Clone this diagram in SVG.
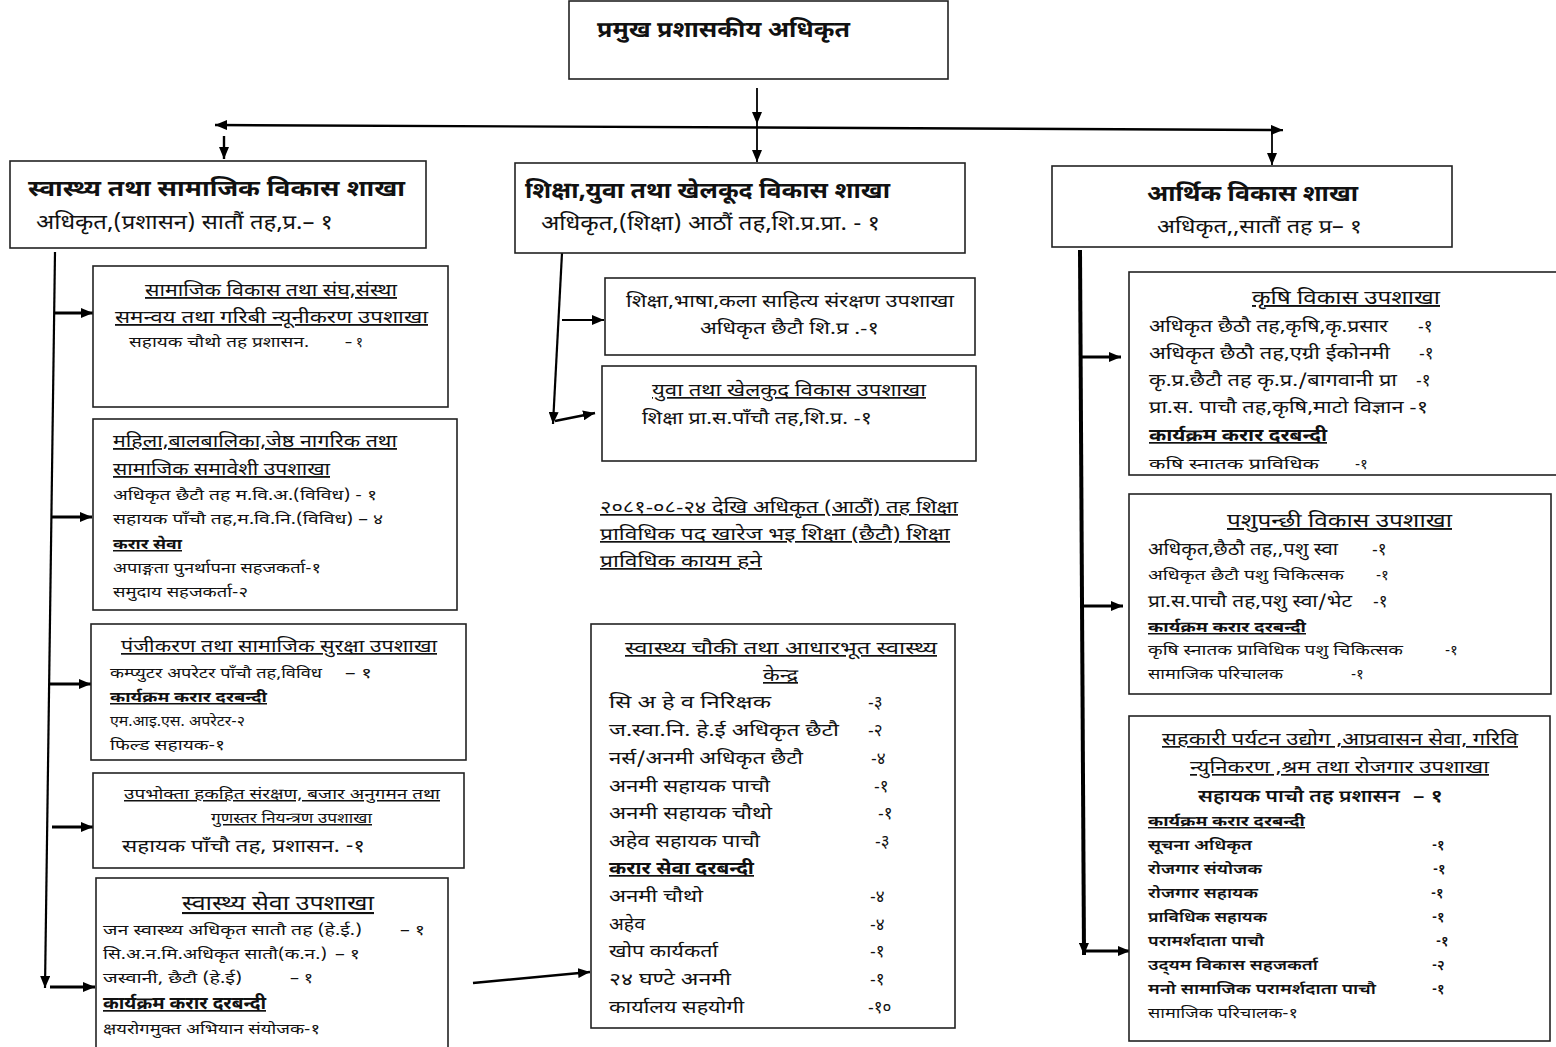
<svg xmlns="http://www.w3.org/2000/svg" width="1556" height="1047" viewBox="0 0 1556 1047">
<style>
.bx{fill:#fff;stroke:#222;stroke-width:1.6}
text{font-family:"Noto Sans Devanagari","Noto Sans","Lohit Devanagari",sans-serif;fill:#111}
.b{font-weight:bold}
.u{text-decoration:underline}
.m{text-anchor:middle}
.c{fill:none;stroke:#000;stroke-width:1.8}
.k{fill:none;stroke:#000;stroke-width:3.2}
</style>
<defs>
<marker id="ar" markerUnits="userSpaceOnUse" markerWidth="12" markerHeight="10" refX="12" refY="5" orient="auto"><path d="M0,0 L12,5 L0,10 z" fill="#000"/></marker>
<marker id="al" markerUnits="userSpaceOnUse" markerWidth="12" markerHeight="10" refX="0" refY="5" orient="auto"><path d="M12,0 L0,5 L12,10 z" fill="#000"/></marker>
</defs>
<rect width="1556" height="1047" fill="#fff"/>

<g id="connectors">
<line class="c" x1="757" y1="88" x2="757" y2="124" marker-end="url(#ar)"/>
<line class="c" x1="215" y1="125" x2="1283" y2="130" marker-start="url(#al)" marker-end="url(#ar)" style="stroke-width:2.4"/>
<line class="c" x1="224" y1="136" x2="224" y2="159" marker-end="url(#ar)" style="stroke-width:2.4"/>
<line class="c" x1="757" y1="124" x2="757" y2="162" marker-end="url(#ar)"/>
<line class="c" x1="1272" y1="130" x2="1272" y2="165" marker-end="url(#ar)"/>
<line class="c" x1="55" y1="252" x2="45" y2="988" marker-end="url(#ar)" style="stroke-width:2.2"/>
<line class="k" x1="54" y1="313" x2="93" y2="313" marker-end="url(#ar)"/>
<line class="k" x1="51" y1="517" x2="92" y2="517" marker-end="url(#ar)"/>
<line class="k" x1="49" y1="684" x2="91" y2="684" marker-end="url(#ar)"/>
<line class="k" x1="52" y1="827" x2="93" y2="827" marker-end="url(#ar)"/>
<line class="k" x1="50" y1="987" x2="95" y2="987" marker-end="url(#ar)"/>
<line class="c" x1="562" y1="253" x2="553" y2="424" marker-end="url(#ar)" style="stroke-width:2.2"/>
<line class="c" x1="562" y1="320" x2="604" y2="320" marker-end="url(#ar)"/>
<line class="k" x1="555" y1="421" x2="595" y2="413" marker-end="url(#ar)" style="stroke-width:2.6"/>
<line class="c" x1="473" y1="983" x2="590" y2="972" marker-end="url(#ar)" style="stroke-width:2.6"/>
<line class="k" x1="1080" y1="250" x2="1084" y2="955" marker-end="url(#ar)" style="stroke-width:4"/>
<line class="k" x1="1082" y1="357" x2="1121" y2="357" marker-end="url(#ar)"/>
<line class="k" x1="1083" y1="606" x2="1123" y2="606" marker-end="url(#ar)"/>
<line class="k" x1="1085" y1="951" x2="1130" y2="951" marker-end="url(#ar)"/>
</g>

<g id="top">
<rect class="bx" x="569" y="1" width="379" height="78"/>
<text class="b" x="597" y="37" font-size="22" textLength="253" lengthAdjust="spacingAndGlyphs">प्रमुख प्रशासकीय अधिकृत</text>
</g>

<g id="branch-left">
<rect class="bx" x="10" y="161" width="416" height="87"/>
<text class="b" x="28" y="196" font-size="23" textLength="377" lengthAdjust="spacingAndGlyphs">स्वास्थ्य तथा सामाजिक विकास शाखा</text>
<text x="36" y="229" font-size="20" textLength="297" lengthAdjust="spacingAndGlyphs">अधिकृत,(प्रशासन) सातौं तह,प्र.– १</text>
</g>

<g id="branch-mid">
<rect class="bx" x="515" y="163" width="450" height="90"/>
<text class="b" x="525" y="198" font-size="23" textLength="365" lengthAdjust="spacingAndGlyphs">शिक्षा,युवा तथा खेलकूद विकास शाखा</text>
<text x="541" y="230" font-size="20" textLength="339" lengthAdjust="spacingAndGlyphs">अधिकृत,(शिक्षा) आठौं तह,शि.प्र.प्रा. - १</text>
</g>

<g id="branch-right">
<rect class="bx" x="1052" y="166" width="400" height="81"/>
<text class="b" x="1147" y="201" font-size="22" textLength="211" lengthAdjust="spacingAndGlyphs">आर्थिक विकास शाखा</text>
<text x="1157" y="233" font-size="19" textLength="205" lengthAdjust="spacingAndGlyphs">अधिकृत,,सातौं तह प्र– १</text>
</g>

<g id="l1">
<rect class="bx" x="93" y="266" width="355" height="141"/>
<text class="u" x="145" y="296" font-size="18" textLength="252" lengthAdjust="spacingAndGlyphs">सामाजिक विकास तथा संघ,संस्था</text>
<text class="u" x="115" y="323" font-size="18" textLength="313" lengthAdjust="spacingAndGlyphs">समन्वय तथा गरिबी न्यूनीकरण उपशाखा</text>
<text x="129" y="347" font-size="14" textLength="180" lengthAdjust="spacingAndGlyphs">सहायक चौथो तह प्रशासन.</text>
<text x="345" y="347" font-size="14" textLength="18" lengthAdjust="spacingAndGlyphs">– १</text>
</g>

<g id="l2">
<rect class="bx" x="93" y="419" width="364" height="191"/>
<text class="u" x="113" y="447" font-size="18" textLength="284" lengthAdjust="spacingAndGlyphs">महिला,बालबालिका,जेष्ठ नागरिक तथा</text>
<text class="u" x="113" y="475" font-size="18" textLength="217" lengthAdjust="spacingAndGlyphs">सामाजिक समावेशी उपशाखा</text>
<text x="113" y="500" font-size="15" textLength="264" lengthAdjust="spacingAndGlyphs">अधिकृत छैटौ तह म.वि.अ.(विविध) - १</text>
<text x="113" y="524" font-size="15" textLength="270" lengthAdjust="spacingAndGlyphs">सहायक पाँचौ तह,म.वि.नि.(विविध) – ४</text>
<text class="b u" x="113" y="549" font-size="15" textLength="69" lengthAdjust="spacingAndGlyphs">करार सेवा</text>
<text x="113" y="573" font-size="15" textLength="208" lengthAdjust="spacingAndGlyphs">अपाङ्गता पुनर्थापना सहजकर्ता-१</text>
<text x="113" y="597" font-size="15" textLength="135" lengthAdjust="spacingAndGlyphs">समुदाय सहजकर्ता-२</text>
</g>

<g id="l3">
<rect class="bx" x="91" y="624" width="375" height="136"/>
<text class="u" x="121" y="652" font-size="17" textLength="316" lengthAdjust="spacingAndGlyphs">पंजीकरण तथा सामाजिक सुरक्षा उपशाखा</text>
<text x="110" y="678" font-size="15" textLength="212" lengthAdjust="spacingAndGlyphs">कम्प्युटर अपरेटर पाँचौ तह,विविध</text>
<text x="345" y="678" font-size="15" textLength="27" lengthAdjust="spacingAndGlyphs">– १</text>
<text class="b u" x="110" y="702" font-size="15" textLength="157" lengthAdjust="spacingAndGlyphs">कार्यक्रम करार दरबन्दी</text>
<text x="110" y="726" font-size="15" textLength="135" lengthAdjust="spacingAndGlyphs">एम.आइ.एस. अपरेटर-२</text>
<text x="110" y="750" font-size="15" textLength="115" lengthAdjust="spacingAndGlyphs">फिल्ड सहायक-१</text>
</g>

<g id="l4">
<rect class="bx" x="93" y="773" width="371" height="95"/>
<text class="u" x="124" y="799" font-size="15" textLength="316" lengthAdjust="spacingAndGlyphs">उपभोक्ता हकहित संरक्षण, बजार अनुगमन तथा</text>
<text class="u" x="211" y="823" font-size="15" textLength="161" lengthAdjust="spacingAndGlyphs">गुणस्तर नियन्त्रण उपशाखा</text>
<text x="122" y="852" font-size="18" textLength="243" lengthAdjust="spacingAndGlyphs">सहायक पाँचौ तह, प्रशासन. -१</text>
</g>

<g id="l5">
<rect class="bx" x="96" y="878" width="352" height="175"/>
<text class="u" x="182" y="910" font-size="21" textLength="192" lengthAdjust="spacingAndGlyphs">स्वास्थ्य सेवा उपशाखा</text>
<text x="103" y="935" font-size="15" textLength="259" lengthAdjust="spacingAndGlyphs">जन स्वास्थ्य अधिकृत सातौ तह (हे.ई.)</text>
<text x="400" y="935" font-size="15" textLength="25" lengthAdjust="spacingAndGlyphs">– १</text>
<text x="103" y="959" font-size="15" textLength="224" lengthAdjust="spacingAndGlyphs">सि.अ.न.मि.अधिकृत सातौ(क.न.)</text>
<text x="335" y="959" font-size="15" textLength="25" lengthAdjust="spacingAndGlyphs">– १</text>
<text x="103" y="983" font-size="15" textLength="139" lengthAdjust="spacingAndGlyphs">जस्वानी, छैटौ (हे.ई)</text>
<text x="290" y="983" font-size="15" textLength="23" lengthAdjust="spacingAndGlyphs">– १</text>
<text class="b u" x="103" y="1009" font-size="17" textLength="163" lengthAdjust="spacingAndGlyphs">कार्यक्रम करार दरबन्दी</text>
<text x="103" y="1034" font-size="15" textLength="217" lengthAdjust="spacingAndGlyphs">क्षयरोगमुक्त अभियान संयोजक-१</text>
</g>

<g id="m1">
<rect class="bx" x="605" y="278" width="370" height="77"/>
<text x="626" y="307" font-size="17" textLength="328" lengthAdjust="spacingAndGlyphs">शिक्षा,भाषा,कला साहित्य संरक्षण उपशाखा</text>
<text x="700" y="334" font-size="17" textLength="179" lengthAdjust="spacingAndGlyphs">अधिकृत छैटौ शि.प्र .-१</text>
</g>

<g id="m2">
<rect class="bx" x="602" y="366" width="374" height="95"/>
<text class="u" x="652" y="396" font-size="17" textLength="274" lengthAdjust="spacingAndGlyphs">युवा तथा खेलकुद विकास उपशाखा</text>
<text x="642" y="424" font-size="17" textLength="230" lengthAdjust="spacingAndGlyphs">शिक्षा प्रा.स.पाँचौ तह,शि.प्र. -१</text>
</g>

<g id="note">
<text class="u" x="600" y="513" font-size="17" textLength="358" lengthAdjust="spacingAndGlyphs">२०८१-०८-२४ देखि अधिकृत (आठौं) तह शिक्षा</text>
<text class="u" x="600" y="540" font-size="17" textLength="350" lengthAdjust="spacingAndGlyphs">प्राविधिक पद खारेज भइ शिक्षा (छैटौ) शिक्षा</text>
<text class="u" x="600" y="567" font-size="17" textLength="162" lengthAdjust="spacingAndGlyphs">प्राविधिक कायम हने</text>
</g>

<g id="m3">
<rect class="bx" x="591" y="624" width="364" height="404"/>
<text class="u" x="625" y="654" font-size="17" textLength="312" lengthAdjust="spacingAndGlyphs">स्वास्थ्य चौकी तथा आधारभूत स्वास्थ्य</text>
<text class="u" x="763" y="681" font-size="17" textLength="35" lengthAdjust="spacingAndGlyphs">केन्द्र</text>
<g font-size="17">
<text x="609" y="708" textLength="162" lengthAdjust="spacingAndGlyphs">सि अ हे व निरिक्षक</text><text x="868" y="708">-३</text>
<text x="609" y="736" textLength="230" lengthAdjust="spacingAndGlyphs">ज.स्वा.नि. हे.ई अधिकृत छैटौ</text><text x="868" y="736">-२</text>
<text x="609" y="764" textLength="194" lengthAdjust="spacingAndGlyphs">नर्स/अनमी अधिकृत छैटौ</text><text x="871" y="764">-४</text>
<text x="609" y="792" textLength="161" lengthAdjust="spacingAndGlyphs">अनमी सहायक पाचौ</text><text x="874" y="792">-१</text>
<text x="609" y="819" textLength="163" lengthAdjust="spacingAndGlyphs">अनमी सहायक चौथो</text><text x="878" y="819">-१</text>
<text x="609" y="847" textLength="151" lengthAdjust="spacingAndGlyphs">अहेव सहायक पाचौ</text><text x="875" y="847">-३</text>
<text class="b u" x="609" y="874" textLength="145" lengthAdjust="spacingAndGlyphs">करार सेवा दरबन्दी</text>
<text x="609" y="902" textLength="94" lengthAdjust="spacingAndGlyphs">अनमी चौथो</text><text x="870" y="902">-४</text>
<text x="609" y="930" textLength="36" lengthAdjust="spacingAndGlyphs">अहेव</text><text x="870" y="930">-४</text>
<text x="609" y="957" textLength="109" lengthAdjust="spacingAndGlyphs">खोप कार्यकर्ता</text><text x="870" y="957">-१</text>
<text x="609" y="985" textLength="122" lengthAdjust="spacingAndGlyphs">२४ घण्टे अनमी</text><text x="870" y="985">-१</text>
<text x="609" y="1013" textLength="135" lengthAdjust="spacingAndGlyphs">कार्यालय सहयोगी</text><text x="868" y="1013">-१०</text>
</g>
</g>

<g id="r1">
<rect class="bx" x="1129" y="272" width="440" height="203"/>
<text class="u" x="1252" y="304" font-size="19" textLength="188" lengthAdjust="spacingAndGlyphs">कृषि विकास उपशाखा</text>
<g font-size="17">
<text x="1149" y="332" textLength="239" lengthAdjust="spacingAndGlyphs">अधिकृत छैठौ तह,कृषि,कृ.प्रसार</text><text x="1418" y="332">-१</text>
<text x="1149" y="359" textLength="241" lengthAdjust="spacingAndGlyphs">अधिकृत छैठौ तह,एग्री ईकोनमी</text><text x="1419" y="359">-१</text>
<text x="1149" y="386" textLength="248" lengthAdjust="spacingAndGlyphs">कृ.प्र.छैटौ तह कृ.प्र./बागवानी प्रा</text><text x="1416" y="386">-१</text>
<text x="1149" y="413" textLength="279" lengthAdjust="spacingAndGlyphs">प्रा.स. पाचौ तह,कृषि,माटो विज्ञान -१</text>
<text class="b u" x="1149" y="441" textLength="178" lengthAdjust="spacingAndGlyphs">कार्यक्रम करार दरबन्दी</text>
<text x="1149" y="469" font-size="15" textLength="170" lengthAdjust="spacingAndGlyphs">कषि स्नातक प्राविधिक</text><text x="1355" y="469" font-size="15">-१</text>
</g>
</g>

<g id="r2">
<rect class="bx" x="1129" y="494" width="422" height="200"/>
<text class="u" x="1227" y="527" font-size="19" textLength="225" lengthAdjust="spacingAndGlyphs">पशुपन्छी विकास उपशाखा</text>
<text x="1148" y="555" font-size="17" textLength="190" lengthAdjust="spacingAndGlyphs">अधिकृत,छैठौ तह,,पशु स्वा</text><text x="1372" y="555" font-size="17">-१</text>
<text x="1148" y="580" font-size="15" textLength="196" lengthAdjust="spacingAndGlyphs">अधिकृत छैटौ पशु चिकित्सक</text><text x="1376" y="580" font-size="15">-१</text>
<text x="1148" y="607" font-size="17" textLength="204" lengthAdjust="spacingAndGlyphs">प्रा.स.पाचौ तह,पशु स्वा/भेट</text><text x="1373" y="607" font-size="17">-१</text>
<text class="b u" x="1148" y="632" font-size="15" textLength="158" lengthAdjust="spacingAndGlyphs">कार्यक्रम करार दरबन्दी</text>
<text x="1148" y="655" font-size="15" textLength="255" lengthAdjust="spacingAndGlyphs">कृषि स्नातक प्राविधिक पशु चिकित्सक</text><text x="1445" y="655" font-size="15">-१</text>
<text x="1148" y="679" font-size="15" textLength="135" lengthAdjust="spacingAndGlyphs">सामाजिक परिचालक</text><text x="1351" y="679" font-size="15">-१</text>
</g>

<g id="r3">
<rect class="bx" x="1129" y="716" width="421" height="325"/>
<text class="u" x="1162" y="745" font-size="17" textLength="356" lengthAdjust="spacingAndGlyphs">सहकारी पर्यटन उद्योग ,आप्रवासन सेवा, गरिवि</text>
<text class="u" x="1190" y="773" font-size="17" textLength="299" lengthAdjust="spacingAndGlyphs">न्युनिकरण ,श्रम तथा रोजगार उपशाखा</text>
<text x="1198" y="802" font-size="17" font-weight="600" textLength="202" lengthAdjust="spacingAndGlyphs">सहायक पाचौ तह प्रशासन</text>
<text x="1413" y="802" font-size="17" font-weight="600" textLength="30" lengthAdjust="spacingAndGlyphs">– १</text>
<g font-size="14" font-weight="600">
<text class="b u" x="1148" y="826" textLength="157" lengthAdjust="spacingAndGlyphs">कार्यक्रम करार दरबन्दी</text>
<text x="1148" y="850" textLength="104" lengthAdjust="spacingAndGlyphs">सूचना अधिकृत</text><text x="1432" y="850">-१</text>
<text x="1148" y="874" textLength="114" lengthAdjust="spacingAndGlyphs">रोजगार संयोजक</text><text x="1433" y="874">-१</text>
<text x="1148" y="898" textLength="110" lengthAdjust="spacingAndGlyphs">रोजगार सहायक</text><text x="1431" y="898">-१</text>
<text x="1148" y="922" textLength="119" lengthAdjust="spacingAndGlyphs">प्राविधिक सहायक</text><text x="1432" y="922">-१</text>
<text x="1148" y="946" textLength="116" lengthAdjust="spacingAndGlyphs">परामर्शदाता पाचौ</text><text x="1436" y="946">-१</text>
<text x="1148" y="970" textLength="170" lengthAdjust="spacingAndGlyphs">उद्‌यम विकास सहजकर्ता</text><text x="1432" y="970">-२</text>
<text x="1148" y="994" textLength="228" lengthAdjust="spacingAndGlyphs">मनो सामाजिक परामर्शदाता पाचौ</text><text x="1432" y="994">-१</text>
<text x="1148" y="1018" font-weight="normal" textLength="150" lengthAdjust="spacingAndGlyphs">सामाजिक परिचालक-१</text>
</g>
</g>
</svg>
